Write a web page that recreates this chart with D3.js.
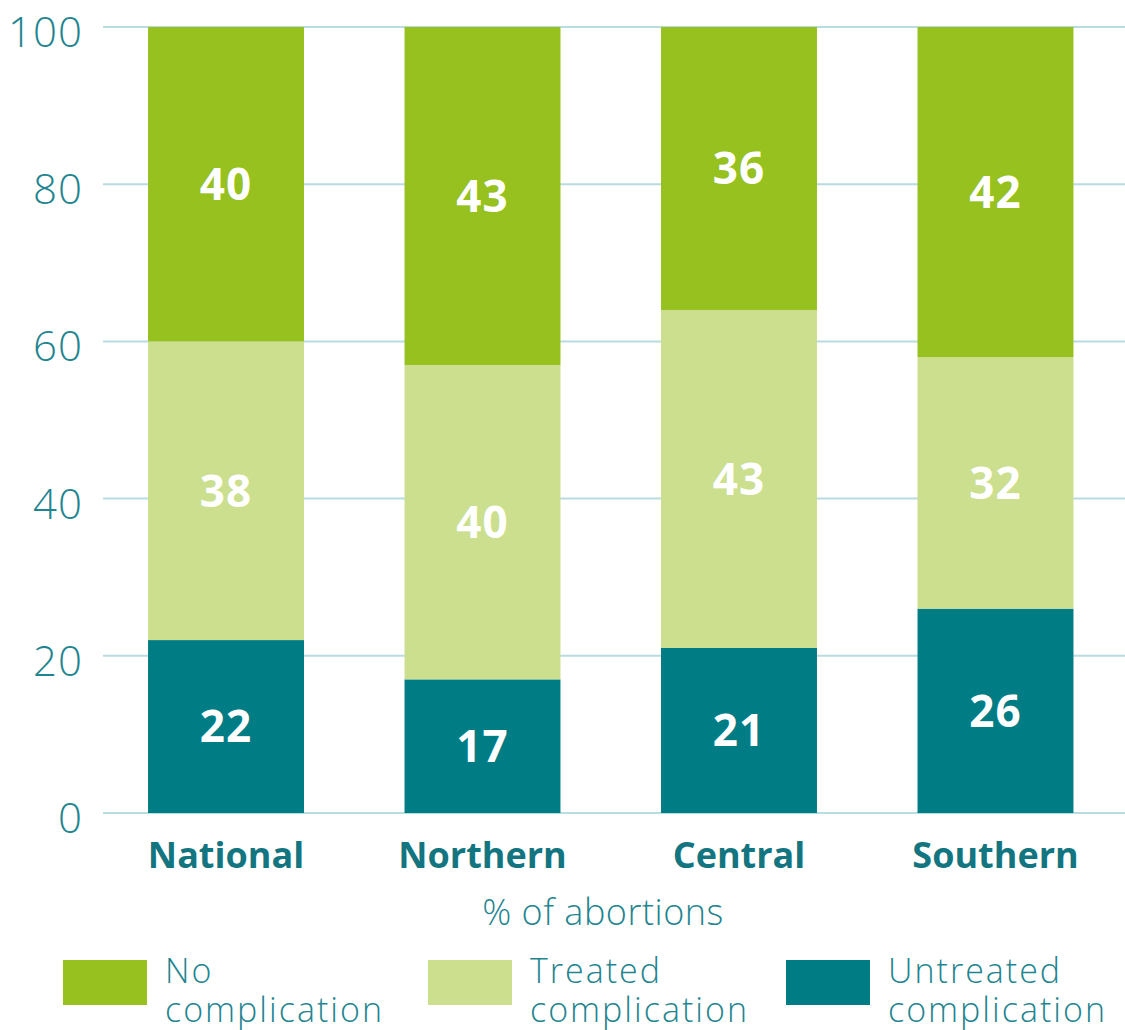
<!DOCTYPE html>
<html>
<head>
<meta charset="utf-8">
<script src="https://cdn.jsdelivr.net/npm/d3@7"></script>
<style>
  body { margin: 0; background: #fff; }
  svg { display: block; font-family: "Open Sans", "Noto Sans", sans-serif; }
</style>
</head>
<body>
<div id="chart"></div>
<script>
// regions along the x axis
var regions = ['National', 'Northern', 'Central', 'Southern'];
// % of abortions per outcome, stacked bottom to top
var untreated = [22, 17, 21, 26];
var treated = [38, 40, 43, 32];
var noComplication = [40, 43, 36, 42];
var seriesNames = ['Untreated complication', 'Treated complication', 'No complication'];
var yTicks = [0, 20, 40, 60, 80, 100];

var colors = {
  'No complication': '#96c11f',
  'Treated complication': '#cbdf8f',
  'Untreated complication': '#007c85'
};

var width = 1125, height = 1030;
var svg = d3.select('#chart').append('svg').attr('width', width).attr('height', height);

var xScale = d3.scaleBand().domain(regions).range([47.5, 1174]).paddingInner(0.392).paddingOuter(0.392);
var yScale = d3.scaleLinear().domain([0, 100]).range([813, 27]);

// gridlines + tick labels
var grid = svg.append('g').classed('grid', true);
grid.selectAll('line').data(yTicks).enter().append('line')
  .attr('x1', 103).attr('x2', width)
  .attr('y1', function (d) { return yScale(d); })
  .attr('y2', function (d) { return yScale(d); })
  .style('stroke', '#b9dce1').style('stroke-width', 2);

// labels sit a little below their gridline in the original
var yAxis = d3.axisLeft(yScale).tickValues(yTicks).tickSize(0).tickPadding(0);
svg.append('g').attr('transform', 'translate(83,6)').call(yAxis)
  .call(function (g) { g.select('.domain').remove(); })
  .selectAll('text')
  .style('font-size', '42px').style('font-weight', 300).style('letter-spacing', '1px')
  .style('fill', '#1f8590').style('font-family', '"Open Sans", sans-serif');

// stack
var table = regions.map(function (r, i) {
  return { region: r, 'Untreated complication': untreated[i], 'Treated complication': treated[i], 'No complication': noComplication[i] };
});
var stacked = d3.stack().keys(seriesNames)(table);

var layers = svg.append('g').classed('bars', true).selectAll('g').data(stacked).enter().append('g')
  .style('fill', function (d) { return colors[d.key]; });

layers.selectAll('rect').data(function (d) { return d; }).enter().append('rect')
  .attr('x', function (d) { return xScale(d.data.region); })
  .attr('width', xScale.bandwidth())
  .attr('y', function (d) { return yScale(d[1]); })
  .attr('height', function (d) { return yScale(d[0]) - yScale(d[1]); });

layers.selectAll('text').data(function (d) { return d; }).enter().append('text')
  .attr('x', function (d) { return xScale(d.data.region) + xScale.bandwidth() / 2; })
  .attr('y', function (d) { return yScale((d[0] + d[1]) / 2); })
  .attr('dy', '0.36em')
  .attr('text-anchor', 'middle')
  .style('fill', '#fff').style('font-weight', 700).style('font-size', '44px').style('letter-spacing', '1px')
  .text(function (d) { return d[1] - d[0]; });

// category labels
var xAxis = d3.axisBottom(xScale).tickSize(0).tickPadding(0);
svg.append('g').attr('transform', 'translate(0,868)').call(xAxis)
  .call(function (g) { g.select('.domain').remove(); })
  .selectAll('text')
  .attr('dy', 0)
  .style('font-size', '36px').style('font-weight', 700)
  .style('fill', '#137580').style('font-family', '"Open Sans", sans-serif');

svg.append('text').text('% of abortions')
  .attr('x', 603).attr('y', 925).attr('text-anchor', 'middle')
  .style('font-size', '36px').style('font-weight', 300).style('letter-spacing', '0.5px').style('fill', '#1f8590');

// legend
var legendItems = [
  { key: 'No complication', lines: ['No', 'complication'], x: 63 },
  { key: 'Treated complication', lines: ['Treated', 'complication'], x: 428 },
  { key: 'Untreated complication', lines: ['Untreated', 'complication'], x: 786 }
];
var legend = svg.append('g').classed('legend', true).selectAll('g').data(legendItems).enter().append('g')
  .attr('transform', function (d) { return 'translate(' + d.x + ',960)'; });
legend.append('rect').attr('width', 84).attr('height', 45)
  .style('fill', function (d) { return colors[d.key]; });
legend.append('text')
  .style('font-size', '34px').style('font-weight', 300).style('letter-spacing', '2px').style('fill', '#1f8590')
  .selectAll('tspan').data(function (d) { return d.lines; }).enter().append('tspan')
  .attr('x', 102).attr('y', function (d, i) { return 23 + i * 39; })
  .text(function (d) { return d; });
</script>
</body>
</html>
